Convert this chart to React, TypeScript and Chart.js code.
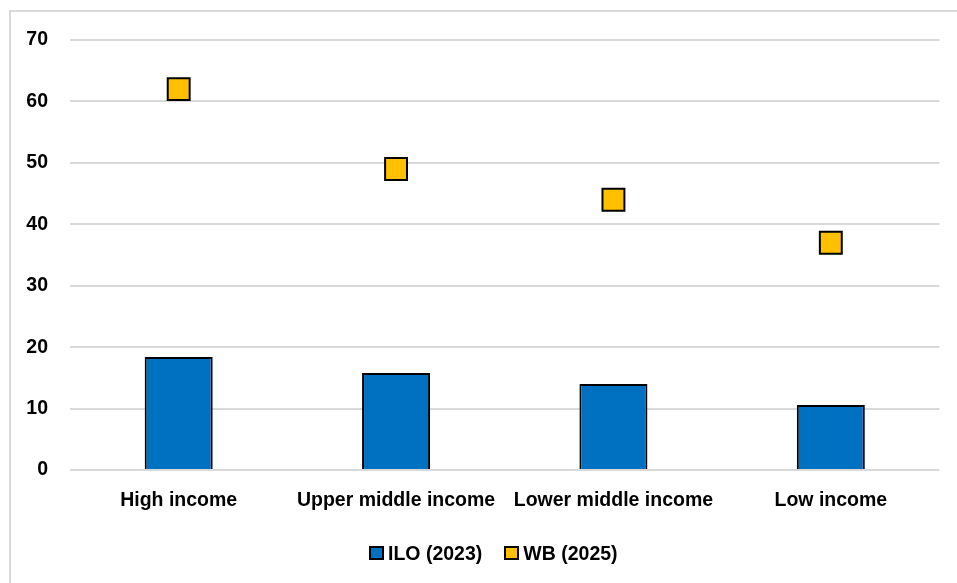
import React, { useEffect, useRef } from "react";
import { Chart, registerables } from "chart.js";

Chart.register(...registerables);

// Income groups and the two estimates for each
const categories = ["High income", "Upper middle income", "Lower middle income", "Low income"];
const iloValues = [18.4, 15.8, 14.0, 10.6];
const wbValues = [62, 49, 44, 37];
const yTicks = [0, 10, 20, 30, 40, 50, 60, 70];

const seriesNames = ["ILO (2023)", "WB (2025)"];
const BLUE = "#0070C0";
const GOLD = "#FFC000";
const FONT = "'Liberation Sans', Arial, sans-serif";

export default function App() {
  const canvasRef = useRef<HTMLCanvasElement | null>(null);

  useEffect(() => {
    const canvas = canvasRef.current;
    if (!canvas) return;
    const chart = new Chart(canvas, {
      type: "bar",
      data: {
        labels: categories,
        datasets: [
          {
            type: "line",
            label: seriesNames[1],
            data: wbValues,
            showLine: false,
            pointStyle: "rect",
            pointRadius: 15.5,
            pointHoverRadius: 15.5,
            pointBackgroundColor: GOLD,
            pointBorderColor: "#000000",
            pointBorderWidth: 2,
            backgroundColor: GOLD,
            borderColor: "#000000",
            order: 0,
          },
          {
            type: "bar",
            label: seriesNames[0],
            data: iloValues,
            backgroundColor: BLUE,
            borderColor: "#000000",
            borderWidth: 2,
            borderSkipped: "bottom",
            categoryPercentage: 1,
            barPercentage: 0.313,
            order: 1,
          },
        ],
      },
      options: {
        animation: false,
        responsive: false,
        maintainAspectRatio: false,
        layout: { padding: { top: 40, right: 17, bottom: 0, left: 0 } },
        plugins: {
          legend: { display: false },
          tooltip: { enabled: false },
        },
        scales: {
          x: {
            offset: true,
            grid: { display: false, drawTicks: false },
            border: { display: false },
            ticks: {
              color: "#000000",
              padding: 19,
              maxRotation: 0,
              autoSkip: false,
              font: { family: FONT, size: 19.5, weight: "bold" },
            },
            afterFit: (scale: any) => {
              scale.height = 113;
            },
          },
          y: {
            min: 0,
            max: 70,
            afterBuildTicks: (scale: any) => {
              scale.ticks = yTicks.map((v) => ({ value: v }));
            },
            grid: { color: "#d9d9d9", lineWidth: 2, drawTicks: false },
            border: { display: false },
            ticks: {
              color: "#000000",
              padding: 22,
              font: { family: FONT, size: 19.5, weight: "bold" },
            },
            afterFit: (scale: any) => {
              scale.width = 70;
            },
          },
        },
      },
    });
    return () => chart.destroy();
  }, []);

  const legendItem = (name: string, color: string) => (
    <div style={{ display: "flex", alignItems: "center", marginRight: 22 }}>
      <span
        style={{
          display: "inline-block",
          width: 11,
          height: 10,
          background: color,
          border: "2px solid #000",
          marginRight: 4,
        }}
      />
      <span style={{ fontFamily: FONT, fontWeight: "bold", fontSize: 19.5, color: "#000", lineHeight: "26px" }}>{name}</span>
    </div>
  );

  return (
    <div style={{ position: "absolute", left: 0, top: 0, width: 957, height: 583, overflow: "hidden", background: "#fff" }}>
      <div
        style={{
          position: "absolute",
          left: 9,
          top: 10,
          width: 1000,
          height: 700,
          borderLeft: "2px solid #d9d9d9",
          borderTop: "2px solid #d9d9d9",
        }}
      />
      <canvas ref={canvasRef} width={957} height={583} style={{ position: "absolute", left: 0, top: 0 }} />
      <div style={{ position: "absolute", left: 369, top: 540, display: "flex", alignItems: "center", height: 26 }}>
        {legendItem(seriesNames[0], BLUE)}
        {legendItem(seriesNames[1], GOLD)}
      </div>
    </div>
  );
}
